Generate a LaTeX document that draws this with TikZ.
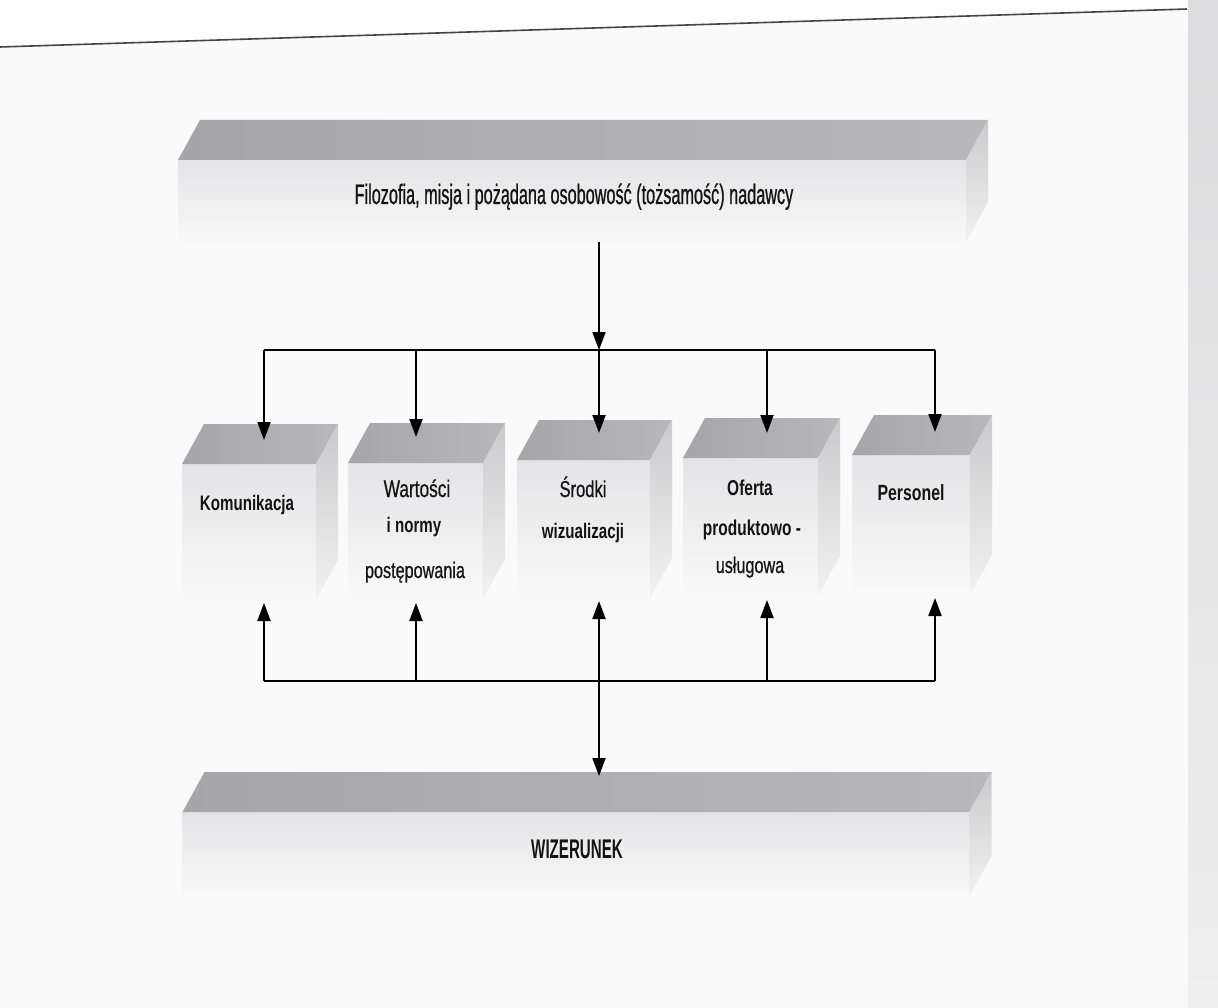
\documentclass[tikz,border=0pt]{standalone}
\usepackage{fontspec}
\setmainfont{Liberation Sans}
\newfontfamily\boxreg{Liberation Sans}[FakeStretch=0.72, FakeBold=0.6]
\newfontfamily\boxbold{Liberation Sans Bold}[FakeStretch=0.72]
\newfontfamily\narrowfont{Liberation Sans}[FakeStretch=0.58, FakeBold=0.7]
\newfontfamily\narrowbold{Liberation Sans Bold}[FakeStretch=0.56]
\usetikzlibrary{arrows.meta}
\definecolor{frontA}{HTML}{E4E4E6}
\definecolor{frontB}{HTML}{F9F9F9}
\definecolor{topA}{HTML}{A6A6AA}
\definecolor{topB}{HTML}{B8B8BC}
\definecolor{sideA}{HTML}{CACACC}
\definecolor{sideB}{HTML}{F2F2F2}
\definecolor{pagebg}{HTML}{FAFAFA}
\definecolor{txt}{HTML}{141414}
\definecolor{edgecol}{HTML}{4A4440}
\definecolor{stripA}{HTML}{DCDCDE}
\definecolor{stripB}{HTML}{EFEFEF}
% name, cx, cy, w, h
\newcommand\mycube[5]{%
  \node[frontface, minimum width=#4pt, minimum height=#5pt] (#1) at (#2,#3) {};
  \shade[left color=topA, right color=topB] (#1.north west) -- ++(22,-40) -- ++(#4,0) -- (#1.north east) -- cycle;
  \shade[top color=sideA, bottom color=sideB] (#1.north east) -- (#1.south east) -- ++(22,-40) -- ++(0,-#5) -- cycle;
}
\begin{document}
\begin{tikzpicture}[x=1pt,y=-1pt,
  frontface/.style={inner sep=0pt, outer sep=0pt, top color=frontA, bottom color=frontB},
  arr/.style={line width=2pt, -{Triangle[length=18pt,width=13pt]}},
  darr/.style={line width=2pt, {Triangle[length=18pt,width=13pt]}-{Triangle[length=18pt,width=13pt]}},
  ln/.style={line width=2.4pt},
  lbl/.style={inner sep=0pt, anchor=base, text=txt, font=\boxreg},
  lblb/.style={inner sep=0pt, anchor=base, text=txt, font=\boxbold},
]
\useasboundingbox (0,0) rectangle (1218,1008);
% page (scan)
\fill[pagebg] (0,0) rectangle (1218,1008);
\fill[white] (0,0) -- (1218,0) -- (1218,8) -- (1187,9) -- (0,47) -- cycle;
\shade[top color=stripA, bottom color=stripB] (1188,0) rectangle (1218,1008);
\draw[line width=1.6pt, edgecol] (0,47) -- (1187,9);

% top bar
\mycube{topbar}{572}{201}{788}{82}
\node[inner sep=0pt, anchor=base, text=txt, font=\narrowfont\fontsize{28}{30}\selectfont] (toptext) at (574,204) {Filozofia, misja i pożądana osobowość (tożsamość) nadawcy};

% bottom bar
\mycube{botbar}{576}{854}{787}{84}
\node[inner sep=0pt, anchor=base, text=txt, font=\narrowbold\fontsize{27}{30}\selectfont] (wiz) at (577,858) {WIZERUNEK};

% boxes
\mycube{kom}{249}{532}{134}{136}
\mycube{war}{415.5}{531}{135}{136}
\mycube{sro}{583.5}{529}{133}{138}
\mycube{ofe}{750.5}{527}{135}{138}
\mycube{per}{911}{525}{118}{140}

\node[lblb] (t1) at (247,510) {\fontsize{21}{22}\selectfont Komunikacja};
\node[lbl]  (t2a) at (417,497) {\fontsize{24}{24}\selectfont Wartości};
\node[lblb] (t2b) at (414,532) {\fontsize{21}{22}\selectfont i normy};
\node[lbl]  (t2c) at (415,578) {\fontsize{22.5}{24}\selectfont postępowania};
\node[lbl]  (t3a) at (583,497) {\fontsize{23}{24}\selectfont Środki};
\node[lblb] (t3b) at (583,538) {\fontsize{21}{22}\selectfont wizualizacji};
\node[lblb] (t4a) at (750,495) {\fontsize{21.5}{22}\selectfont Oferta};
\node[lblb] (t4b) at (752,535) {\fontsize{21.5}{22}\selectfont produktowo -};
\node[lbl]  (t4c) at (750,573) {\fontsize{22.5}{24}\selectfont usługowa};
\node[lblb] (t5) at (911,500) {\fontsize{22}{22}\selectfont Personel};

% connector coordinates
\coordinate (src) at (599,242);
\coordinate (jl) at (264,350);
\coordinate (jw) at (416,350);
\coordinate (jc) at (599,350);
\coordinate (jo) at (767,350);
\coordinate (jr) at (935,350);
\coordinate (kin) at (264,440);
\coordinate (win) at (416,437);
\coordinate (sin) at (599,433);
\coordinate (oin) at (767,433);
\coordinate (pin) at (935,432);
\coordinate (bl) at (264,681);
\coordinate (bw) at (416,681);
\coordinate (bc) at (599,681);
\coordinate (bo) at (767,681);
\coordinate (br) at (935,681);
\coordinate (kout) at (264,603);
\coordinate (wout) at (416,603);
\coordinate (sout) at (599,601);
\coordinate (oout) at (767,600);
\coordinate (pout) at (935,598);
\coordinate (wizin) at (599,776);

% top distribution
\draw[arr] (src) -- (jc);
\draw[ln] (jl) -- (jr);
\draw[arr] (jl) -- (kin);
\draw[arr] (jw) -- (win);
\draw[arr] (jc) -- (sin);
\draw[arr] (jo) -- (oin);
\draw[arr] (jr) -- (pin);

% bottom collection
\draw[ln] (bl) -- (br);
\draw[arr] (bl) -- (kout);
\draw[arr] (bw) -- (wout);
\draw[arr] (bo) -- (oout);
\draw[arr] (br) -- (pout);
\draw[darr] (sout) -- (wizin);
\end{tikzpicture}
\end{document}
